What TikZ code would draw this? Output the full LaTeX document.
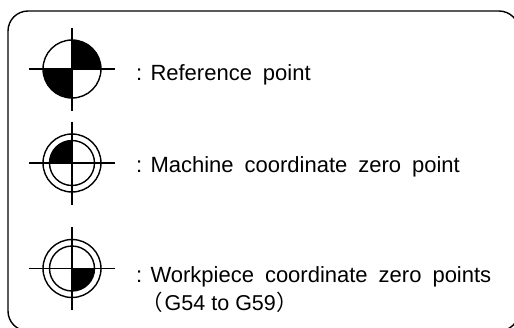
\documentclass[tikz,border=0pt]{standalone}
\usepackage{fontspec}
\setmainfont{Liberation Sans}
\newfontfamily\cjkf{Noto Sans CJK JP}
\tikzset{
  ln/.style={line width=1.4pt,black},
  lbl/.style={anchor=base west,inner sep=0pt,font=\fontsize{22}{26}\selectfont,text=black}
}
\newcommand{\cross}[2]{\draw[ln] (#1-43,#2) -- (#1+43,#2) (#1,#2-41.5) -- (#1,#2+41.5);}
\newcommand{\colonlead}{:\hspace{8.2pt}\spaceskip=11pt\relax}
\begin{document}
\begin{tikzpicture}[x=1pt,y=-1pt]
\useasboundingbox (0,0) rectangle (514,327);
\clip (0,0) rectangle (514,327);
\draw[ln,rounded corners=20pt] (8,331) rectangle (519,11);
% reference point
\draw[ln] (72,69) circle[radius=29pt];
\fill[black] (72,69) -- (72,40) arc[start angle=90,end angle=0,radius=29pt] -- cycle;
\fill[black] (72,69) -- (43,69) arc[start angle=180,end angle=270,radius=29pt] -- cycle;
\cross{72}{69}
% machine zero
\draw[ln] (72,163) circle[radius=29pt] (72,163) circle[radius=22.5pt];
\fill[black] (72,163) -- (49.5,163) arc[start angle=180,end angle=90,radius=22.5pt] -- cycle;
\cross{72}{163}
% workpiece zero
\draw[ln] (72,268.5) circle[radius=29pt] (72,268.5) circle[radius=22.5pt];
\fill[black] (72,268.5) -- (94.5,268.5) arc[start angle=0,end angle=-90,radius=22.5pt] -- cycle;
\cross{72}{268.5}
\node[lbl] (a) at (136,80) {\colonlead Reference point};
\node[lbl] (b) at (136,172) {\colonlead Machine coordinate zero point};
\node[lbl] (c) at (136,282) {\colonlead Workpiece coordinate zero points};
\node[lbl,font=\fontsize{21.5}{26}\selectfont] (d) at (141,310) {\spaceskip=6pt\relax{\cjkf （}\hspace{2pt}G54 to G59\hspace{0.5pt}{\cjkf ）}};
\end{tikzpicture}
\end{document}
